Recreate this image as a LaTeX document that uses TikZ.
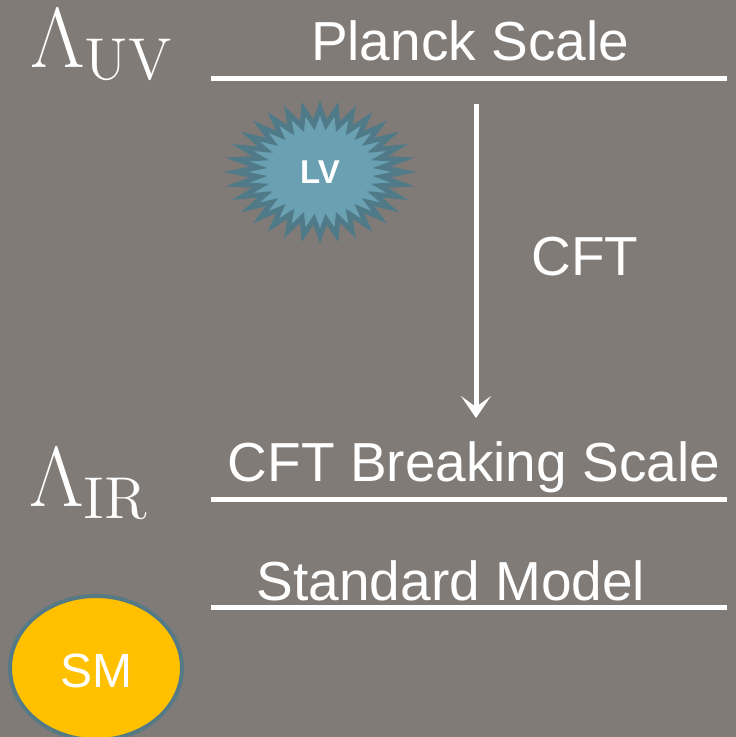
\documentclass[tikz,border=0pt]{standalone}
\usepackage{graphicx}
\usepackage[no-math]{fontspec}
\setmainfont{Liberation Sans}
\usetikzlibrary{arrows.meta,calc,shapes.geometric}
\definecolor{bg}{RGB}{128,123,119}
\definecolor{lvfill}{RGB}{106,160,177}
\definecolor{lvborder}{RGB}{80,122,136}
\definecolor{smfill}{RGB}{255,192,0}
\definecolor{smborder}{RGB}{85,122,134}
\tikzset{
  lbl/.style={text=white, inner sep=0pt, anchor=base, font=\fontsize{55}{60}\selectfont},
  scalelbl/.style={text=white, inner sep=0pt, anchor=base west, font=\huge},
  level/.style={draw=white, line width=5pt},
  flow/.style={draw=white, line width=5pt, -{Stealth[length=22pt, width=30pt, inset=11pt]}}
}
\begin{document}
\begin{tikzpicture}[x=1pt, y=-1pt]
\fill[bg] (0,0) rectangle (736,737);
\useasboundingbox (0,0) rectangle (736,737);
% levels
\coordinate (l1a) at (211,78); \coordinate (l1b) at (727,78);
\coordinate (l2a) at (211,499); \coordinate (l2b) at (727,499);
\coordinate (l3a) at (211,607); \coordinate (l3b) at (727,607);
\draw[level] (l1a) -- (l1b);
\draw[level] (l2a) -- (l2b);
\draw[level] (l3a) -- (l3b);
% labels
\node[lbl] (planck) at (470,60) {Planck Scale};
\node[lbl] (cftb) at (474,481) {CFT Breaking Scale};
\node[lbl] (sm) at (451,600) {Standard Model};
\node[lbl] (cft) at (585,275) {CFT};
\node[scalelbl] (luv) at (30,67) {\scalebox{4.1}{$\Lambda_{\mathrm{UV}}$}};
\node[scalelbl] (lir) at (29,506) {\scalebox{4.1}{$\Lambda_{\mathrm{IR}}$}};
% arrow
\coordinate (atop) at (476,104);
\coordinate (abot) at (476,418);
\draw[flow] (atop) -- (abot);
% starburst
\coordinate (lvc) at (320,172);
\begin{scope}[shift={(320,172)}]
\draw[lvborder, line width=5pt, fill=lvfill, line join=miter]
  (84,0)
  \foreach \i in {0,...,31} {
    -- ({62*cos(\i*11.25+5.625)},{47.5*sin(\i*11.25+5.625)})
    -- ({84*cos(\i*11.25+11.25)},{64*sin(\i*11.25+11.25)})
  } -- cycle;
\end{scope}
\node[text=white, font=\bfseries\fontsize{33}{36}\selectfont] (lv) at (lvc) {LV};
% SM ellipse
\node[draw=smborder, line width=4pt, fill=smfill, ellipse, minimum width=172pt, minimum height=144pt, inner sep=0pt] (smell) at (96,668) {};
\node[text=white, font=\fontsize{48}{52}\selectfont] (smtxt) at (96,671) {SM};
\end{tikzpicture}
\end{document}
